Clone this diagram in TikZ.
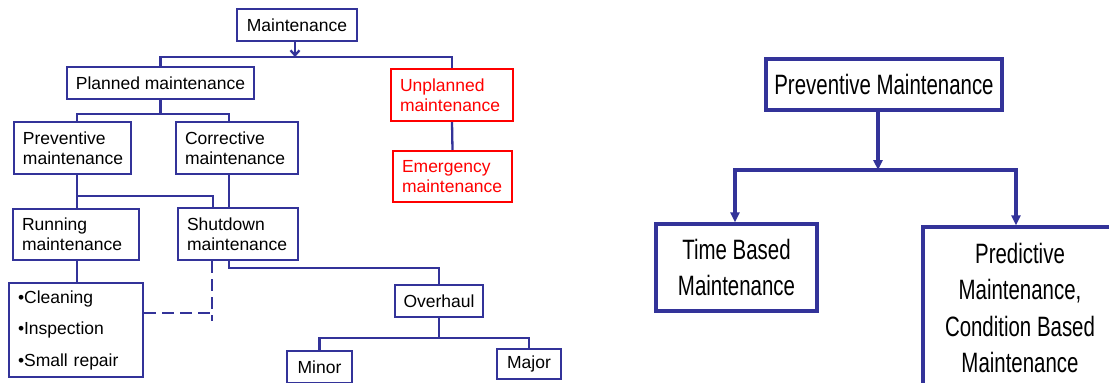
\documentclass[tikz,border=0pt]{standalone}
\usepackage{fontspec}
\setmainfont{Liberation Sans}
\newfontfamily\narrowsf[FakeStretch=0.73]{Liberation Sans}
\usetikzlibrary{arrows.meta}
\definecolor{mblue}{HTML}{333399}
\definecolor{mred}{HTML}{FF0000}
\tikzset{
  box/.style={draw=mblue, line width=2.3pt, inner sep=0pt, align=center,
    font=\fontsize{17.5}{20}\selectfont},
  lbox/.style={box, align=left, inner xsep=9pt},
  redbox/.style={lbox, draw=mred, text=mred},
  bigbox/.style={draw=mblue, line width=3.2pt, inner sep=0pt, align=center,
    font=\narrowsf\fontsize{28}{36.5}\selectfont},
  link/.style={draw=mblue, line width=2.3pt},
  arr/.style={link, -{Straight Barb[length=5pt,width=9pt]}},
  bigarr/.style={draw=mblue, line width=3.2pt, -{Triangle[length=10pt,width=9pt]}}
}
\begin{document}
\begin{tikzpicture}[x=1pt, y=-1pt]
  \clip (0,0) rectangle (1109,383);
  % left tree
  \node[box, minimum width=120pt, minimum height=32pt] (maint) at (297,25) {Maintenance};
  \node[box, minimum width=187pt, minimum height=32pt] (planned) at (160.5,83) {Planned maintenance};
  \node[redbox, text width=104pt, minimum height=52pt] (unplanned) at (452,95) {Unplanned\\maintenance};
  \node[redbox, text width=101pt, minimum height=51pt] (emergency) at (452.5,176.5) {Emergency\\maintenance};
  \node[lbox, text width=99pt, minimum height=52pt] (preventive) at (72.5,148) {Preventive\\maintenance};
  \node[lbox, text width=104pt, minimum height=52pt] (corrective) at (237,148) {Corrective\\maintenance};
  \node[lbox, text width=108pt, minimum height=51pt] (running) at (76,234.5) {Running\\maintenance};
  \node[lbox, text width=102pt, minimum height=52pt] (shutdown) at (238,234) {Shutdown\\maintenance};
  \node[lbox, text width=116pt, minimum height=94pt, font=\fontsize{17.5}{31.5}\selectfont] (tasks) at (76,330)
    {•Cleaning\\•Inspection\\•Small repair};
  \node[box, minimum width=88pt, minimum height=32pt] (overhaul) at (439,301) {Overhaul};
  \node[box, minimum width=65pt, minimum height=32pt] (minor) at (319.5,367) {Minor};
  \node[box, minimum width=64pt, minimum height=30pt] (major) at (529,364) {Major};

  \coordinate (mbus) at (295,57);
  \coordinate (pbus) at (160.5,114);
  \coordinate (rbus) at (77,196);
  \coordinate (obus) at (439,268);
  \coordinate (hbus) at (439,338);
  \coordinate (dashend) at (212,321);

  \draw[arr] (maint.south -| mbus) -- (mbus);
  \draw[link] (planned.north) |- (mbus) -| (unplanned.north);
  \draw[link] (unplanned.south) -- (emergency.north);
  \draw[link] (planned.south) -- (pbus);
  \draw[link] ([xshift=4.5pt]preventive.north) |- (pbus) -| ([xshift=-8pt]corrective.north);
  \draw[link] ([xshift=4.5pt]preventive.south) -- ([xshift=1pt]running.north);
  \draw[link] (rbus) -| ([xshift=-25pt]shutdown.north);
  \draw[link] ([xshift=-8pt]corrective.south) -- ([xshift=-9pt]shutdown.north);
  \draw[link] ([xshift=1pt]running.south) -- ([xshift=1pt]tasks.north);
  \draw[link, dash pattern=on 12pt off 6pt] ([xshift=-26pt]shutdown.south) -- (dashend);
  \draw[link, dash pattern=on 12pt off 6pt] ([yshift=17pt]tasks.east) -- ([yshift=17pt]tasks.east -| dashend);
  \draw[link] ([xshift=-9pt]shutdown.south) |- (obus) -- (overhaul.north);
  \draw[link] (overhaul.south) -- (hbus);
  \draw[link] (minor.north) |- (hbus) -| (major.north);

  % right tree
  \node[bigbox, minimum width=236pt, minimum height=51pt] (pm) at (884,84.5) {Preventive Maintenance};
  \node[bigbox, minimum width=161pt, minimum height=87pt] (tbm) at (736.5,267.5) {Time Based\\Maintenance};
  \node[bigbox, minimum width=194pt, minimum height=162pt] (pdm) at (1020,308)
    {Predictive\\Maintenance,\\Condition Based\\Maintenance};

  \coordinate (tbus) at (878,170);
  \draw[bigarr] ([xshift=-6pt]pm.south) -- (tbus);
  \draw[bigarr] (tbus) -| ([xshift=-1.5pt]tbm.north);
  \draw[bigarr] (tbus) -| ([xshift=-4pt]pdm.north);
\end{tikzpicture}
\end{document}
